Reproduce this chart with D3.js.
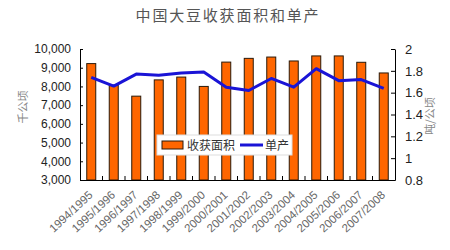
<!DOCTYPE html>
<html>
<head>
<meta charset="utf-8">
<script src="https://cdn.jsdelivr.net/npm/d3@7"></script>
<style>
  body { margin: 0; background: #fff; }
  svg { font-family: "Liberation Sans", Arial, sans-serif; }
</style>
</head>
<body>
<svg id="chart" width="450" height="250"></svg>
<script>
const years = ["1994/1995", "1995/1996", "1996/1997", "1997/1998", "1998/1999", "1999/2000", "2000/2001",
  "2001/2002", "2002/2003", "2003/2004", "2004/2005", "2005/2006", "2006/2007", "2007/2008"];
const area = [9220, 8060, 7480, 8350, 8500, 8000, 9300, 9500, 9570, 9360, 9630, 9630, 9290, 8720];
const yieldPerHa = [1.74, 1.66, 1.77, 1.76, 1.78, 1.79, 1.65, 1.62, 1.73, 1.65, 1.82, 1.71, 1.72, 1.64];
const leftTicks = [3000, 4000, 5000, 6000, 7000, 8000, 9000, 10000];
const rightTicks = [0.8, 1, 1.2, 1.4, 1.6, 1.8, 2];

const svg = d3.select("#chart");
const margin = { top: 49, right: 55, bottom: 70, left: 80 };
const width = 450, height = 250;
const innerW = width - margin.left - margin.right;
const innerH = height - margin.top - margin.bottom;

const g = svg.append("g").attr("transform", `translate(${margin.left},${margin.top})`);

const x = d3.scaleBand().domain(years).range([0, innerW]).paddingInner(0.6).paddingOuter(0.3);
const xLine = d3.scalePoint().domain(years).range([0, innerW]).padding(0.5);
const yL = d3.scaleLinear().domain([3000, 10000]).range([innerH, 0]);
const yR = d3.scaleLinear().domain([0.8, 2]).range([innerH, 0]);

// title
svg.append("text")
  .attr("x", 228).attr("y", 21)
  .attr("text-anchor", "middle")
  .attr("font-family", "'Noto Sans CJK SC', sans-serif")
  .attr("font-size", 15)
  .attr("letter-spacing", 1.8)
  .attr("fill", "#555")
  .text("中国大豆收获面积和单产");

// bars
g.selectAll("rect.bar")
  .data(area)
  .join("rect")
  .attr("class", "bar")
  .attr("x", (d, i) => x(years[i]))
  .attr("y", d => yL(d))
  .attr("width", x.bandwidth())
  .attr("height", d => innerH - yL(d))
  .attr("fill", "#ff6600")
  .attr("stroke", "#2a1a0a")
  .attr("stroke-width", 1);

// line
const line = d3.line()
  .x((d, i) => xLine(years[i]))
  .y(d => yR(d));
g.append("path")
  .datum(yieldPerHa)
  .attr("d", line)
  .attr("fill", "none")
  .attr("stroke", "#1a14d6")
  .attr("stroke-width", 3)
  .attr("stroke-linejoin", "round");

// left axis
const axL = g.append("g")
  .call(d3.axisLeft(yL).tickValues(leftTicks).tickFormat(d3.format(",")).tickSizeInner(-3).tickSizeOuter(0).tickPadding(9));
axL.select(".domain").attr("stroke", "#000");
axL.selectAll("text").attr("font-size", 12).attr("fill", "#222");

// right axis
const axR = g.append("g")
  .attr("transform", `translate(${innerW},0)`)
  .call(d3.axisRight(yR).tickValues(rightTicks).tickFormat(d => d3.format("")(+d.toFixed(1))).tickSizeInner(-4).tickSizeOuter(0).tickPadding(10));
axR.selectAll("text").attr("font-size", 13).attr("fill", "#222");

// bottom axis
const axB = g.append("g")
  .attr("transform", `translate(0,${innerH})`)
  .call(d3.axisBottom(xLine).tickSize(0).tickPadding(6));
axB.selectAll("text")
  .attr("font-size", 11.5)
  .attr("fill", "#666")
  .attr("text-anchor", "end")
  .attr("x", 0).attr("y", 0)
  .attr("dy", "0.35em")
  .attr("transform", "translate(-1,13) rotate(-43)");

// category boundary ticks
const step = innerW / years.length;
g.append("g").selectAll("line")
  .data(years.slice(1))
  .join("line")
  .attr("x1", d => xLine(d) - step / 2)
  .attr("x2", d => xLine(d) - step / 2)
  .attr("y1", innerH).attr("y2", innerH - 4)
  .attr("stroke", "#000");

// axis titles
svg.append("text")
  .attr("transform", "translate(27,107) rotate(-90)")
  .attr("text-anchor", "middle")
  .attr("font-family", "'Noto Sans CJK SC', sans-serif")
  .attr("font-size", 11).attr("fill", "#888")
  .text("千公顷");
svg.append("text")
  .attr("transform", "translate(434,116) rotate(-90)")
  .attr("text-anchor", "middle")
  .attr("font-family", "'Noto Sans CJK SC', sans-serif")
  .attr("font-size", 11).attr("fill", "#888")
  .text("吨/公顷");

// legend
const lg = svg.append("g").attr("transform", "translate(157,135)");
lg.append("rect").attr("width", 135).attr("height", 20).attr("fill", "#fff").attr("stroke", "#ddd");
lg.append("rect").attr("x", 5).attr("y", 6).attr("width", 21).attr("height", 8)
  .attr("fill", "#ff6600").attr("stroke", "#2a1a0a");
lg.append("text").attr("x", 30).attr("y", 14.5)
  .attr("font-family", "'Noto Sans CJK SC', sans-serif").attr("font-size", 12).attr("fill", "#333")
  .text("收获面积");
lg.append("line").attr("x1", 83).attr("x2", 106).attr("y1", 10).attr("y2", 10)
  .attr("stroke", "#1a14d6").attr("stroke-width", 3);
lg.append("text").attr("x", 108).attr("y", 14.5)
  .attr("font-family", "'Noto Sans CJK SC', sans-serif").attr("font-size", 12).attr("fill", "#333")
  .text("单产");
</script>
</body>
</html>
